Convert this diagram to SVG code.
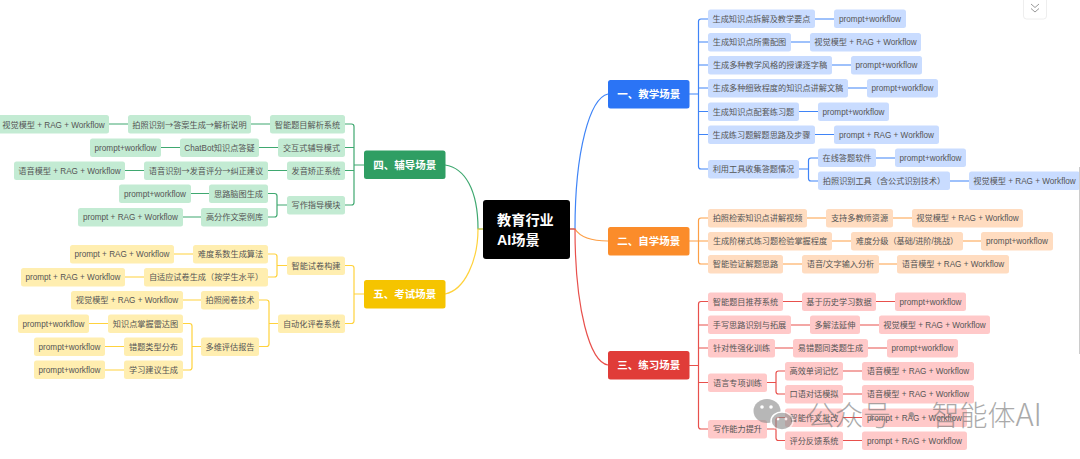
<svg xmlns="http://www.w3.org/2000/svg" width="1080" height="459" viewBox="0 0 1080 459">
<style>
text{font-family:"Liberation Sans","Noto Sans CJK SC",sans-serif;text-anchor:middle}
.n text{font-size:8.17px;fill:#555}
.n tspan{font-family:"Noto Sans CJK SC",sans-serif}
.h text{font-size:10.5px;font-weight:bold;fill:#fff}
.n rect,.h rect{rx:2.5px}
.b rect{fill:#c9dcff}.o rect{fill:#ffdcc0}.r rect{fill:#ffc9c9}.g rect{fill:#c3ebd3}.y rect{fill:#ffeeb0}
#connectors path{fill:none;stroke-width:1.2}
.cb{stroke:#3f84f7}.co{stroke:#fd9f46}.cr{stroke:#e8504c}.cg{stroke:#3fa870}.cy{stroke:#ffd23c}
</style>
<rect width="1080" height="459" fill="#fff"/>
<g id="connectors">
<path class="cb" d="M570 229H575C575 150 590 98 608 94"/>
<path class="co" d="M570 229H575C580 237 590 241 608 241"/>
<path class="cr" d="M570 229H575C575 310 590 362 608 365"/>
<path class="cg" d="M483 229H478C478 190 465 168 445 165"/>
<path class="cy" d="M483 229H478C478 260 465 290 445 294"/>
<path class="cb" d="M689 94H698.5M708 19H701a2.5 2.5 0 0 0-2.5 2.5V166.500a2.500 2.500 0 0 0 2.500 2.500H708M698.500 42H708M698.500 65H708M698.500 88H708M698.500 111.500H708M698.500 134.500H708"/>
<path class="cb" d="M815 19H834M791 42H810M832 65H851M848 88H867M799 111.500H818M815 134.500H834M876 158H895M950 181H969"/>
<path class="cb" d="M799 169H808.500M818 158H811a2.500 2.500 0 0 0-2.500 2.500V178.500a2.500 2.500 0 0 0 2.500 2.500H818"/>
<path class="co" d="M689 241H708M708 218H701a2.500 2.500 0 0 0-2.500 2.500V261.500a2.500 2.500 0 0 0 2.500 2.500H708"/>
<path class="co" d="M807 218H826M893 218H912M832 241H851M963 241H981M783 264H802M879 264H897"/>
<path class="cr" d="M689 365.500H698.500M708 301.500H701a2.500 2.500 0 0 0-2.500 2.500V426.500a2.500 2.500 0 0 0 2.500 2.500H708M698.500 325H708M698.500 348H708M698.500 382.500H708"/>
<path class="cr" d="M783 301.500H802M876 301.500H895M791 325H810M860 325H879M775 348H793M868 348H887"/>
<path class="cr" d="M767 382.500H776M785 371H778.500a2.500 2.500 0 0 0-2.500 2.500V391.500a2.500 2.500 0 0 0 2.500 2.500H785M767 429H776M785 417.500H778.500a2.500 2.500 0 0 0-2.500 2.500V438a2.500 2.500 0 0 0 2.500 2.500H785"/>
<path class="cr" d="M843 371H862M843 394H862M843 417.500H862M843 440.500H862"/>
<path class="cg" d="M364 165H354M345 124H351.500a2.500 2.500 0 0 1 2.500 2.500V202.500a2.500 2.500 0 0 1-2.500 2.500H345M345 147.500H354M345 170.500H354"/>
<path class="cg" d="M270 124H251M180 147.500H161M278 147.500H259M287 170.500H268M144 170.500H125M128 124H109M209 193.500H191M201 217H183"/>
<path class="cg" d="M287 205H277M268 193.500H274.500a2.500 2.500 0 0 1 2.500 2.500V214.500a2.500 2.500 0 0 1-2.500 2.500H268"/>
<path class="cy" d="M364 294H354M345 265.500H351.500a2.500 2.500 0 0 1 2.500 2.500V321a2.500 2.500 0 0 1-2.500 2.500H345"/>
<path class="cy" d="M287 265.500H277M268 254H274.500a2.500 2.500 0 0 1 2.500 2.500V274.500a2.500 2.500 0 0 1-2.500 2.500H268M193 254H174M144 277H125"/>
<path class="cy" d="M278 323.500H269M259 300H266.500a2.500 2.500 0 0 1 2.500 2.500V344a2.500 2.500 0 0 1-2.500 2.500H259M201 300H183"/>
<path class="cy" d="M201 346.500H192M183 323.500H189.500a2.500 2.500 0 0 1 2.500 2.500V367.500a2.500 2.500 0 0 1-2.500 2.500H183M108 323.500H89M124 346.500H105M124 370H105"/>
</g>
<g id="center"><rect x="483" y="200" width="87" height="59" rx="3" fill="#000"/><text x="497" y="225" font-size="14.200" font-weight="bold" fill="#fff" style="text-anchor:start">教育行业</text><text x="497" y="245" font-size="14.200" font-weight="bold" fill="#fff" style="text-anchor:start">AI场景</text></g>
<g id="h1" class="h"><rect x="608" y="80" width="81.500" height="28.500" fill="#2b74f5"/><text x="648.700" y="98">一、教学场景</text></g>
<g id="h2" class="h"><rect x="608" y="227" width="81.500" height="28.500" fill="#fb8c2a"/><text x="648.700" y="245">二、自学场景</text></g>
<g id="h3" class="h"><rect x="608" y="351" width="81.500" height="28.500" fill="#e03c38"/><text x="648.700" y="369">三、练习场景</text></g>
<g id="h4" class="h"><rect x="364" y="150.500" width="81.500" height="28.500" fill="#2f9e63"/><text x="404.700" y="168.500">四、辅导场景</text></g>
<g id="h5" class="h"><rect x="364" y="280" width="81.500" height="28.500" fill="#f5c400"/><text x="404.700" y="298">五、考试场景</text></g>

<g id="b1" class="n b"><rect x="708" y="9.500" width="107" height="18.500"/><text x="761.500" y="21.800">生成知识点拆解及教学要点</text></g>
<g id="b1a" class="n b"><rect x="834" y="9.500" width="72" height="18.500"/><text x="870" y="21.800">prompt+workflow</text></g>
<g id="b2" class="n b"><rect x="708" y="33" width="83" height="18.500"/><text x="749.500" y="45">生成知识点所需配图</text></g>
<g id="b2a" class="n b"><rect x="810" y="33" width="111" height="18.500"/><text x="865.500" y="45">视觉模型 + RAG + Workflow</text></g>
<g id="b3" class="n b"><rect x="708" y="56" width="124" height="18.500"/><text x="770" y="68">生成多种教学风格的授课逐字稿</text></g>
<g id="b3a" class="n b"><rect x="851" y="56" width="71" height="18.500"/><text x="886.500" y="68">prompt+workflow</text></g>
<g id="b4" class="n b"><rect x="708" y="79" width="140" height="18.500"/><text x="778" y="91">生成多种细致程度的知识点讲解文稿</text></g>
<g id="b4a" class="n b"><rect x="867" y="79" width="71" height="18.500"/><text x="902.500" y="91">prompt+workflow</text></g>
<g id="b5" class="n b"><rect x="708" y="102.500" width="91" height="18.500"/><text x="753.500" y="114.500">生成知识点配套练习题</text></g>
<g id="b5a" class="n b"><rect x="818" y="102.500" width="71" height="18.500"/><text x="853.500" y="114.500">prompt+workflow</text></g>
<g id="b6" class="n b"><rect x="708" y="125.500" width="107" height="18.500"/><text x="761.500" y="137.500">生成练习题解题思路及步骤</text></g>
<g id="b6a" class="n b"><rect x="834" y="125.500" width="105" height="18.500"/><text x="886.500" y="137.500">prompt + RAG + Workflow</text></g>
<g id="b7" class="n b"><rect x="708" y="160" width="91" height="18.500"/><text x="753.500" y="172">利用工具收集答题情况</text></g>
<g id="b7a" class="n b"><rect x="818" y="148.500" width="58" height="18.500"/><text x="847" y="160.800">在线答题软件</text></g>
<g id="b7a1" class="n b"><rect x="895" y="148.500" width="71" height="18.500"/><text x="930.500" y="160.800">prompt+workflow</text></g>
<g id="b7b" class="n b"><rect x="818" y="171.500" width="132" height="18.500"/><text x="884" y="184">拍照识别工具（含公式识别技术）</text></g>
<g id="b7b1" class="n b"><rect x="969" y="171.500" width="111" height="18.500"/><text x="1024.500" y="184">视觉模型 + RAG + Workflow</text></g>

<g id="o1" class="n o"><rect x="708" y="209" width="99" height="18.500"/><text x="757.500" y="221">拍照检索知识点讲解视频</text></g>
<g id="o1a" class="n o"><rect x="826" y="209" width="67" height="18.500"/><text x="859.500" y="221">支持多教师资源</text></g>
<g id="o1b" class="n o"><rect x="912" y="209" width="111" height="18.500"/><text x="967.500" y="221">视觉模型 + RAG + Workflow</text></g>
<g id="o2" class="n o"><rect x="708" y="232" width="124" height="18.500"/><text x="770" y="244">生成阶梯式练习题检验掌握程度</text></g>
<g id="o2a" class="n o"><rect x="851" y="232" width="112" height="18.500"/><text x="907" y="244">难度分级（基础/进阶/挑战）</text></g>
<g id="o2b" class="n o"><rect x="981" y="232" width="72" height="18.500"/><text x="1017" y="244">prompt+workflow</text></g>
<g id="o3" class="n o"><rect x="708" y="255" width="75" height="18.500"/><text x="745.500" y="267">智能验证解题思路</text></g>
<g id="o3a" class="n o"><rect x="802" y="255" width="77" height="18.500"/><text x="840.500" y="267">语音/文字输入分析</text></g>
<g id="o3b" class="n o"><rect x="897" y="255" width="112" height="18.500"/><text x="953" y="267">语音模型 + RAG + Workflow</text></g>

<g id="r1" class="n r"><rect x="708" y="292.500" width="75" height="18.500"/><text x="745.500" y="304.500">智能题目推荐系统</text></g>
<g id="r1a" class="n r"><rect x="802" y="292.500" width="74" height="18.500"/><text x="839" y="304.500">基于历史学习数据</text></g>
<g id="r1b" class="n r"><rect x="895" y="292.500" width="71" height="18.500"/><text x="930.500" y="304.500">prompt+workflow</text></g>
<g id="r2" class="n r"><rect x="708" y="315.500" width="83" height="18.500"/><text x="749.500" y="328">手写思路识别与拓展</text></g>
<g id="r2a" class="n r"><rect x="810" y="315.500" width="50" height="18.500"/><text x="835" y="328">多解法延伸</text></g>
<g id="r2b" class="n r"><rect x="879" y="315.500" width="111" height="18.500"/><text x="934.500" y="328">视觉模型 + RAG + Workflow</text></g>
<g id="r3" class="n r"><rect x="708" y="339" width="67" height="18.500"/><text x="741.500" y="351">针对性强化训练</text></g>
<g id="r3a" class="n r"><rect x="793" y="339" width="75" height="18.500"/><text x="830.500" y="351">易错题同类题生成</text></g>
<g id="r3b" class="n r"><rect x="887" y="339" width="71" height="18.500"/><text x="922.500" y="351">prompt+workflow</text></g>
<g id="r4" class="n r"><rect x="708" y="373.500" width="59" height="18.500"/><text x="737.500" y="385.500">语言专项训练</text></g>
<g id="r4a" class="n r"><rect x="785" y="362" width="58" height="18.500"/><text x="814" y="374">高效单词记忆</text></g>
<g id="r4a1" class="n r"><rect x="862" y="362" width="112" height="18.500"/><text x="918" y="374">语音模型 + RAG + Workflow</text></g>
<g id="r4b" class="n r"><rect x="785" y="385" width="58" height="18.500"/><text x="814" y="397">口语对话模拟</text></g>
<g id="r4b1" class="n r"><rect x="862" y="385" width="112" height="18.500"/><text x="918" y="397">语音模型 + RAG + Workflow</text></g>
<g id="r5" class="n r"><rect x="708" y="420" width="59" height="18.500"/><text x="737.500" y="432">写作能力提升</text></g>
<g id="r5a" class="n r"><rect x="785" y="408.500" width="58" height="18.500"/><text x="814" y="420.500">智能作文批改</text></g>
<g id="r5a1" class="n r"><rect x="862" y="408.500" width="105" height="18.500"/><text x="914.500" y="420.500">prompt + RAG + Workflow</text></g>
<g id="r5b" class="n r"><rect x="785" y="431.500" width="58" height="18.500"/><text x="814" y="443.500">评分反馈系统</text></g>
<g id="r5b1" class="n r"><rect x="862" y="431.500" width="105" height="18.500"/><text x="914.500" y="443.500">prompt + RAG + Workflow</text></g>

<g id="g1" class="n g"><rect x="270" y="115" width="75" height="18.500"/><text x="307.500" y="127.500">智能题目解析系统</text></g>
<g id="g1a" class="n g"><rect x="128" y="115" width="123" height="18.500"/><text x="189.500" y="127.500">拍照识别<tspan>→</tspan>答案生成<tspan>→</tspan>解析说明</text></g>
<g id="g1b" class="n g"><rect x="-2" y="115" width="111" height="18.500"/><text x="53.500" y="127.500">视觉模型 + RAG + Workflow</text></g>
<g id="g2" class="n g"><rect x="278" y="138.500" width="67" height="18.500"/><text x="311.500" y="151">交互式辅导模式</text></g>
<g id="g2a" class="n g"><rect x="180" y="138.500" width="79" height="18.500"/><text x="219.500" y="151">ChatBot知识点答疑</text></g>
<g id="g2b" class="n g"><rect x="90" y="138.500" width="71" height="18.500"/><text x="125.500" y="151">prompt+workflow</text></g>
<g id="g3" class="n g"><rect x="287" y="161.500" width="58" height="18.500"/><text x="316" y="174">发音矫正系统</text></g>
<g id="g3a" class="n g"><rect x="144" y="161.500" width="124" height="18.500"/><text x="206" y="174">语音识别<tspan>→</tspan>发音评分<tspan>→</tspan>纠正建议</text></g>
<g id="g3b" class="n g"><rect x="14" y="161.500" width="111" height="18.500"/><text x="69.500" y="174">语音模型 + RAG + Workflow</text></g>
<g id="g4" class="n g"><rect x="287" y="196" width="58" height="18.500"/><text x="316" y="208">写作指导模块</text></g>
<g id="g4a" class="n g"><rect x="209" y="184.500" width="59" height="18.500"/><text x="238.500" y="196.500">思路脑图生成</text></g>
<g id="g4a1" class="n g"><rect x="119" y="184.500" width="72" height="18.500"/><text x="155" y="196.500">prompt+workflow</text></g>
<g id="g4b" class="n g"><rect x="201" y="208" width="67" height="18.500"/><text x="234.500" y="220">高分作文案例库</text></g>
<g id="g4b1" class="n g"><rect x="78" y="208" width="105" height="18.500"/><text x="130.500" y="220">prompt + RAG + Workflow</text></g>

<g id="y1" class="n y"><rect x="287" y="256.500" width="58" height="18.500"/><text x="316" y="268.500">智能试卷构建</text></g>
<g id="y1a" class="n y"><rect x="193" y="245" width="75" height="18.500"/><text x="230.500" y="257">难度系数生成算法</text></g>
<g id="y1a1" class="n y"><rect x="70" y="245" width="104" height="18.500"/><text x="122" y="257">prompt + RAG + Workflow</text></g>
<g id="y1b" class="n y"><rect x="144" y="268" width="124" height="18.500"/><text x="206" y="280">自适应试卷生成（按学生水平）</text></g>
<g id="y1b1" class="n y"><rect x="21" y="268" width="104" height="18.500"/><text x="73" y="280">prompt + RAG + Workflow</text></g>
<g id="y2" class="n y"><rect x="278" y="314.500" width="67" height="18.500"/><text x="311.500" y="326.500">自动化评卷系统</text></g>
<g id="y2a" class="n y"><rect x="201" y="291" width="58" height="18.500"/><text x="230" y="303">拍照阅卷技术</text></g>
<g id="y2a1" class="n y"><rect x="71" y="291" width="112" height="18.500"/><text x="127" y="303">视觉模型 + RAG + Workflow</text></g>
<g id="y2b" class="n y"><rect x="201" y="337.500" width="58" height="18.500"/><text x="230" y="349.500">多维评估报告</text></g>
<g id="y2b1" class="n y"><rect x="108" y="314.500" width="75" height="18.500"/><text x="145.500" y="326.500">知识点掌握雷达图</text></g>
<g id="y2b1a" class="n y"><rect x="18" y="314.500" width="71" height="18.500"/><text x="53.500" y="326.500">prompt+workflow</text></g>
<g id="y2b2" class="n y"><rect x="124" y="337.500" width="59" height="18.500"/><text x="153.500" y="349.500">错题类型分布</text></g>
<g id="y2b2a" class="n y"><rect x="34" y="337.500" width="71" height="18.500"/><text x="69.500" y="349.500">prompt+workflow</text></g>
<g id="y2b3" class="n y"><rect x="124" y="360.500" width="59" height="18.500"/><text x="153.500" y="373">学习建议生成</text></g>
<g id="y2b3a" class="n y"><rect x="34" y="360.500" width="71" height="18.500"/><text x="69.500" y="373">prompt+workflow</text></g>

<rect x="1079" y="167" width="1" height="187" fill="#ccc"/>
<rect x="1023.500" y="-4" width="23" height="23" rx="3" fill="#fff" stroke="#eee"/>
<path d="M1031 4l4 3.500 4-3.500M1031 8.500l4 3.500 4-3.500" fill="none" stroke="#999" stroke-width="1"/>
<g id="watermark" opacity="0.62">
<ellipse cx="767" cy="411" rx="13.500" ry="12" fill="#8c8c8c"/>
<circle cx="762" cy="407" r="1.800" fill="#fff"/><circle cx="771" cy="407" r="1.800" fill="#fff"/>
<ellipse cx="782" cy="421" rx="11" ry="9" fill="#8c8c8c" stroke="#fff" stroke-width="1.500"/>
<circle cx="778" cy="419" r="1.400" fill="#fff"/><circle cx="786" cy="419" r="1.400" fill="#fff"/>
<text x="807" y="426" font-size="28" font-weight="300" fill="#777" style="text-anchor:start;font-family:'Noto Sans CJK SC',sans-serif">公众号 · 智能体<tspan font-size="31">AI</tspan></text>
</g>
</svg>
